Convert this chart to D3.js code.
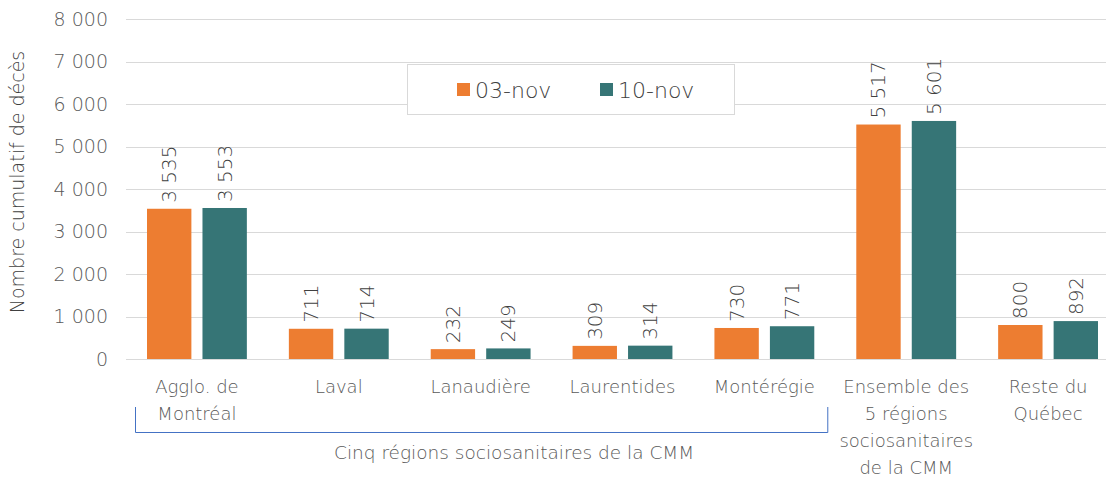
<!DOCTYPE html>
<html><head>
<meta charset="utf-8">
<script src="https://d3js.org/d3.v7.min.js"></script>
<style>
body { margin: 0; background: white; }
svg { font-family: "DejaVu Sans", Lato, sans-serif; font-weight: 200; }
.grid line { stroke: #d9d9d9; }
</style>
</head><body>
<svg id="chart" width="1106" height="479"></svg>
<script>
var categories = [["Agglo. de", "Montréal"], ["Laval"], ["Lanaudière"], ["Laurentides"], ["Montérégie"],
                  ["Ensemble des", "5 régions", "sociosanitaires", "de la CMM"], ["Reste du", "Québec"]];
var seriesNames = ["03-nov", "10-nov"];
var nov03 = [3535, 711, 232, 309, 730, 5517, 800];
var nov10 = [3553, 714, 249, 314, 771, 5601, 892];
var yTicks = [0, 1000, 2000, 3000, 4000, 5000, 6000, 7000, 8000];
var colors = ["#ed7d31", "#367576"];

var locale = d3.formatLocale({decimal: ",", thousands: "\u00a0", grouping: [3], currency: ["", "$"]});
var fmt = locale.format(",d");

var svg = d3.select("#chart");
var pLeft = 126, pRight = 1119, pTop = 19, pBottom = 359;

var x = d3.scaleBand().domain(d3.range(categories.length)).range([pLeft, pRight]);
var x1 = d3.scaleBand().domain([0, 1]).range([21, x.bandwidth() - 21]).paddingInner(0.2);
var y = d3.scaleLinear().domain([0, 8000]).range([pBottom, pTop]);

// gridlines
svg.append("g").attr("class", "grid")
    .selectAll("line").data(yTicks).enter().append("line")
    .attr("x1", pLeft).attr("x2", 1106)
    .attr("y1", function(d) { return Math.round(y(d)) + 0.5; })
    .attr("y2", function(d) { return Math.round(y(d)) + 0.5; });

// y tick labels
svg.append("g").selectAll("text").data(yTicks).enter().append("text")
    .attr("x", 108).attr("y", function(d) { return y(d); })
    .attr("dy", "0.35em").attr("text-anchor", "end")
    .attr("font-size", 19).attr("fill", "#595959")
    .text(function(d) { return fmt(d); });

svg.append("text")
    .attr("transform", "translate(24," + ((pTop + pBottom) / 2 - 7) + ") rotate(-90)")
    .attr("text-anchor", "middle").attr("font-size", 19).attr("fill", "#404040")
    .text("Nombre cumulatif de décès");

var series = [nov03, nov10];
var groups = svg.append("g").selectAll("g").data(series).enter().append("g")
    .attr("fill", function(d, i) { return colors[i]; });

groups.each(function(vals, s) {
    var g = d3.select(this);
    g.selectAll("rect").data(vals).enter().append("rect")
        .attr("x", function(d, i) { return x(i) + x1(s); })
        .attr("width", x1.bandwidth())
        .attr("y", function(d) { return y(d); })
        .attr("height", function(d) { return pBottom - y(d); });
    g.selectAll("text").data(vals).enter().append("text")
        .attr("transform", function(d, i) {
            return "translate(" + (x(i) + x1(s) + x1.bandwidth() / 2) + "," + (y(d) - 6) + ") rotate(-90)";
        })
        .attr("dy", "0.35em").attr("font-size", 20).attr("fill", "#404040")
        .text(function(d) { return fmt(d); });
});

// category labels
var cat = svg.append("g").selectAll("text").data(categories).enter().append("text")
    .attr("text-anchor", "middle").attr("font-size", 18).attr("fill", "#595959")
    .attr("x", function(d, i) { return x(i) + x.bandwidth() / 2; })
    .attr("y", 393);
cat.selectAll("tspan").data(function(d) { return d; }).enter().append("tspan")
    .attr("x", function() { return d3.select(this.parentNode).attr("x"); })
    .attr("dy", function(d, i) { return i ? 27 : 0; })
    .text(function(d) { return d; });

// bracket under the five regions
var bx0 = x(0) + 9, bx1 = x(4) + x.bandwidth() - 8;
svg.append("path")
    .attr("d", "M" + (bx0 + 0.5) + ",407V432.5H" + (bx1 + 0.5) + "V407")
    .attr("fill", "none").attr("stroke", "#4472c4").attr("stroke-width", 1);
svg.append("text")
    .attr("x", (bx0 + bx1) / 2 + 33).attr("y", 459).attr("text-anchor", "middle")
    .attr("font-size", 18.5).attr("fill", "#595959")
    .text("Cinq régions sociosanitaires de la CMM");

// legend
var lg = svg.append("g");
lg.append("rect").attr("x", 407.5).attr("y", 64.5).attr("width", 327).attr("height", 50)
    .attr("fill", "white").attr("stroke", "#d9d9d9");
var lx = [457, 600];
seriesNames.forEach(function(n, i) {
    lg.append("rect").attr("x", lx[i]).attr("y", 83).attr("width", 13).attr("height", 13).attr("fill", colors[i]);
    lg.append("text").attr("x", lx[i] + 18).attr("y", 90).attr("dy", "0.35em")
        .attr("font-size", 22).attr("fill", "#404040").text(n);
});
</script>
</body></html>
